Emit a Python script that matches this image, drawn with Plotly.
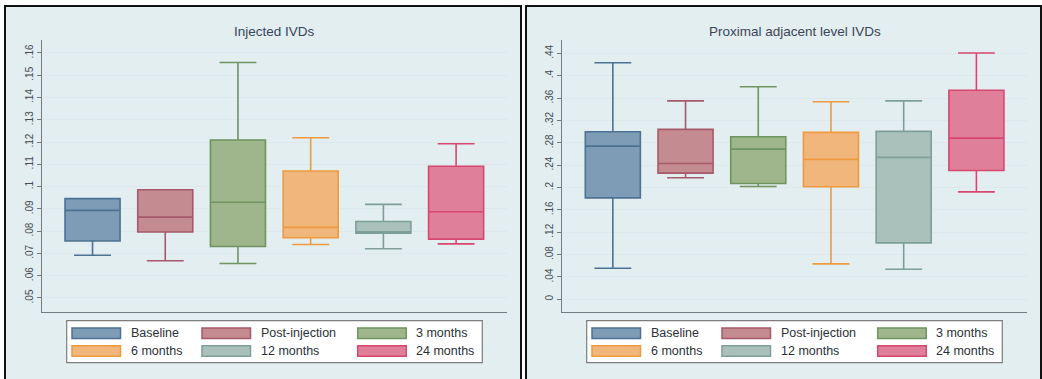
import plotly.graph_objects as go

W, H = 1042, 379

# ---- data ----------------------------------------------------------------
groups = ["Baseline", "Post-injection", "3 months", "6 months", "12 months", "24 months"]

# Injected IVDs: five-number summaries per time point
inj_lower = [0.0692, 0.0667, 0.0655, 0.0740, 0.0721, 0.0743]
inj_q1 = [0.0756, 0.0796, 0.0731, 0.0770, 0.0791, 0.0764]
inj_median = [0.0893, 0.0863, 0.0930, 0.0817, 0.0797, 0.0887]
inj_q3 = [0.0946, 0.0986, 0.1209, 0.1070, 0.0843, 0.1091]
inj_upper = [0.0946, 0.0986, 0.1557, 0.1219, 0.0920, 0.1192]

# Proximal adjacent level IVDs
prox_lower = [0.0556, 0.2173, 0.2019, 0.0633, 0.0538, 0.1922]
prox_q1 = [0.1815, 0.2257, 0.2072, 0.2012, 0.1009, 0.2305]
prox_median = [0.2740, 0.2430, 0.2686, 0.2502, 0.2538, 0.2883]
prox_q3 = [0.2996, 0.3039, 0.2907, 0.2985, 0.3003, 0.3738]
prox_upper = [0.4232, 0.3550, 0.3802, 0.3533, 0.3550, 0.4405]

inj_tickvals = [0.05, 0.06, 0.07, 0.08, 0.09, 0.10, 0.11, 0.12, 0.13, 0.14, 0.15, 0.16]
inj_ticktext = [".05", ".06", ".07", ".08", ".09", ".1", ".11", ".12", ".13", ".14", ".15", ".16"]
prox_tickvals = [0, 0.04, 0.08, 0.12, 0.16, 0.20, 0.24, 0.28, 0.32, 0.36, 0.40, 0.44]
prox_ticktext = ["0", ".04", ".08", ".12", ".16", ".2", ".24", ".28", ".32", ".36", ".4", ".44"]

panel_titles = ["Injected IVDs", "Proximal adjacent level IVDs"]

# ---- styling -------------------------------------------------------------
fill_colors = ["#7f9cb7", "#c48b91", "#9fb68d", "#f0b67c", "#aac0bb", "#e07f99"]
line_colors = ["#4d7193", "#a6596a", "#6f945f", "#ef9a3f", "#7e9f98", "#d8476f"]
FONT = "Liberation Sans, Arial, sans-serif"
region_bg = "#e2eef0"
axis_col = "#737b82"
grid_col = "#dde8ed"


def px(x):
    return x / W


def py(y):
    return 1 - y / H


fig = go.Figure()

panels = [
    dict(lower=inj_lower, q1=inj_q1, med=inj_median, q3=inj_q3, upper=inj_upper,
         xa="x", ya="y", left=42.0,
         rng=[0.0437, 0.1658], tv=inj_tickvals, tt=inj_ticktext),
    dict(lower=prox_lower, q1=prox_q1, med=prox_median, q3=prox_q3, upper=prox_upper,
         xa="x2", ya="y2", left=562.3,
         rng=[-0.0227, 0.4638], tv=prox_tickvals, tt=prox_ticktext),
]

plot_w = 465.0
top_px, bot_px = 40.0, 312.0

for p in panels:
    for i, g in enumerate(groups):
        fig.add_trace(go.Box(
            x=[i], q1=[p["q1"][i]], median=[p["med"][i]], q3=[p["q3"][i]],
            lowerfence=[p["lower"][i]], upperfence=[p["upper"][i]],
            name=g, width=0.757, whiskerwidth=0.67, boxpoints=False,
            fillcolor=fill_colors[i], line=dict(color=line_colors[i], width=1.6),
            xaxis=p["xa"], yaxis=p["ya"], showlegend=False, hoverinfo="skip",
        ))

shapes = []
annotations = []

# panel (graph region) backgrounds with black frames
for x0, x1 in [(5, 521), (526, 1041)]:
    shapes.append(dict(type="rect", xref="paper", yref="paper",
                       x0=px(x0), x1=px(x1), y0=py(395), y1=py(6),
                       fillcolor=region_bg, line=dict(color="#111111", width=2),
                       layer="below"))

layout_axes = {}
for k, p in enumerate(panels):
    left = p["left"]
    dom_x = [px(left), px(left + plot_w)]
    dom_y = [py(bot_px), py(top_px)]
    xname = "xaxis" if k == 0 else "xaxis2"
    yname = "yaxis" if k == 0 else "yaxis2"
    layout_axes[xname] = dict(
        domain=dom_x, range=[-0.695, 5.70], showticklabels=False, ticks="",
        showgrid=False, zeroline=False, showline=True, linecolor=axis_col,
        linewidth=1.2, anchor=p["ya"], fixedrange=True,
    )
    layout_axes[yname] = dict(
        domain=dom_y, range=p["rng"], tickvals=p["tv"], ticktext=p["tt"],
        tickangle=-90, ticks="outside", ticklen=4, tickwidth=1.1, tickcolor=axis_col,
        tickfont=dict(family=FONT, size=10, color="#474b52"),
        showgrid=True, gridcolor=grid_col, gridwidth=1.4, zeroline=False,
        showline=True, linecolor=axis_col, linewidth=1.2, anchor=p["xa"],
        fixedrange=True,
    )

    # panel title
    annotations.append(dict(
        text=panel_titles[k], xref="paper", yref="paper",
        x=px(left + plot_w / 2), y=py(31), xanchor="center", yanchor="middle",
        showarrow=False, font=dict(family=FONT, size=13.5, color="#3a4557"),
    ))

    # legend frame
    off = 0 if k == 0 else 520.0
    shapes.append(dict(type="rect", xref="paper", yref="paper",
                       x0=px(66.7 + off), x1=px(482.3 + off),
                       y0=py(362.7), y1=py(320.7),
                       fillcolor="white", line=dict(color="#7d7d7d", width=1.2),
                       layer="below"))
    col_x = [72.0, 202.0, 357.7]
    row_y = [333.3, 351.0]
    for i, g in enumerate(groups):
        cx = col_x[i % 3] + off
        cy = row_y[i // 3]
        shapes.append(dict(type="rect", xref="paper", yref="paper",
                           x0=px(cx), x1=px(cx + 48.5),
                           y0=py(cy + 5.2), y1=py(cy - 5.2),
                           fillcolor=fill_colors[i],
                           line=dict(color=line_colors[i], width=1.5),
                           layer="below"))
        annotations.append(dict(
            text=g, xref="paper", yref="paper",
            x=px(cx + 56.5), y=py(cy), xanchor="left", yanchor="middle",
            showarrow=False, font=dict(family=FONT, size=12.5, color="#2c3138"),
        ))

fig.update_layout(
    width=W, height=H, margin=dict(l=0, r=0, t=0, b=0),
    paper_bgcolor="white", plot_bgcolor="white",
    boxmode="overlay", showlegend=False,
    shapes=shapes, annotations=annotations,
    **layout_axes,
)

fig.write_html("out.html")
